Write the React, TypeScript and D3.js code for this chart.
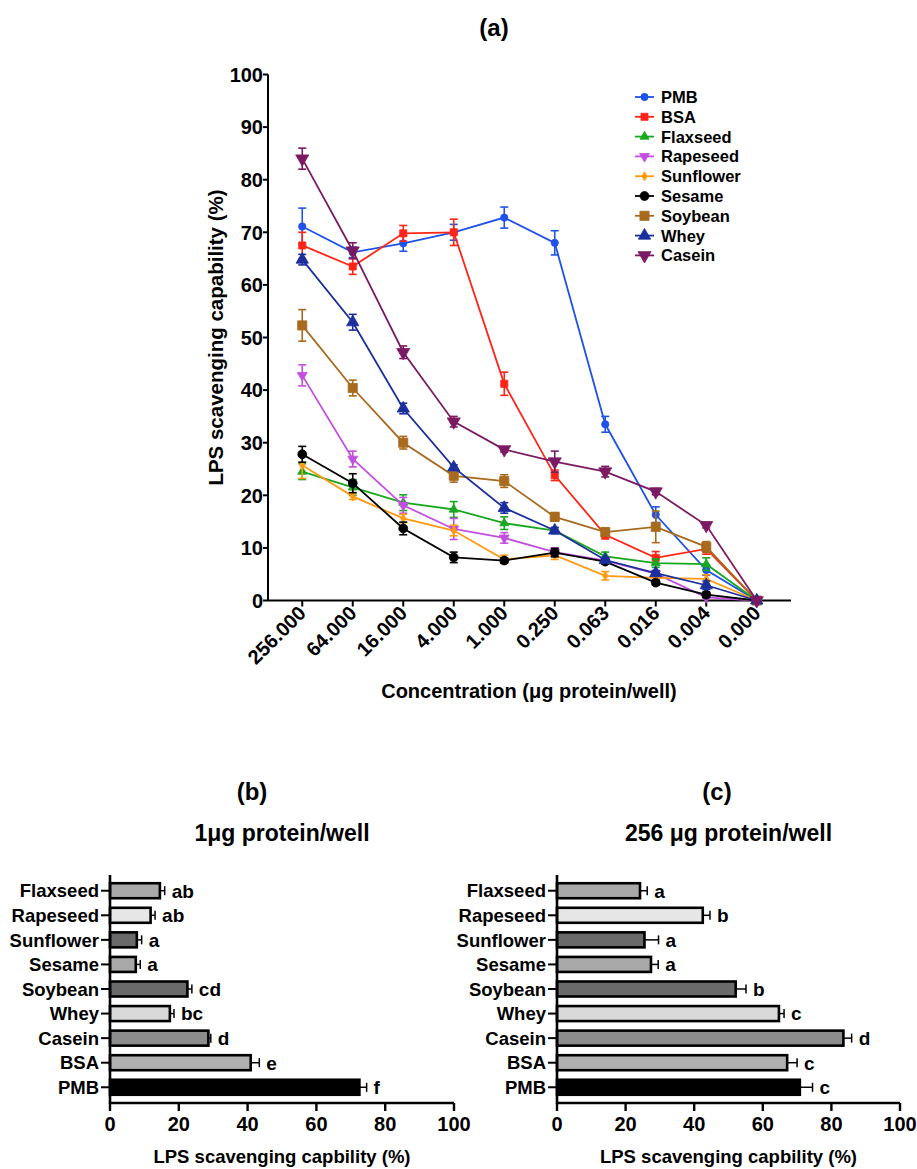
import React from "react";
import * as d3 from "d3";

// ---------- DATA ----------
const concentrations = ["256.000", "64.000", "16.000", "4.000", "1.000", "0.250", "0.063", "0.016", "0.004", "0.000"];
const seriesNames = ["PMB", "BSA", "Flaxseed", "Rapeseed", "Sunflower", "Sesame", "Soybean", "Whey", "Casein"];

const pmbValues = [71.1, 66.2, 67.9, 70.0, 72.8, 68.0, 33.5, 16.3, 5.8, 0];
const pmbErrors = [3.5, 1.0, 1.5, 1.5, 2.0, 2.3, 1.5, 1.5, 1.0, 0];
const bsaValues = [67.5, 63.5, 69.8, 70.0, 41.2, 23.8, 12.5, 8.1, 9.8, 0];
const bsaErrors = [2.5, 1.5, 1.5, 2.5, 2.2, 1.0, 0.8, 1.2, 1.0, 0];
const flaxseedValues = [24.5, 21.5, 18.6, 17.3, 14.7, 13.3, 8.4, 7.1, 6.9, 0];
const flaxseedErrors = [1.5, 1.5, 1.5, 1.5, 1.2, 0.5, 0.8, 0.8, 1.2, 0];
const rapeseedValues = [42.8, 26.9, 18.1, 13.6, 11.9, 9.2, 7.6, 5.1, 0.6, 0];
const rapeseedErrors = [2.0, 1.5, 1.5, 2.0, 1.0, 0.8, 0.5, 0.5, 0.3, 0];
const sunflowerValues = [25.7, 19.8, 15.6, 13.3, 7.8, 8.6, 4.7, 4.3, 4.1, 0];
const sunflowerErrors = [2.5, 0.6, 0.8, 1.0, 0.8, 0.8, 0.8, 0.8, 0.8, 0];
const sesameValues = [27.8, 22.3, 13.7, 8.2, 7.6, 9.1, 7.4, 3.4, 1.1, 0];
const sesameErrors = [1.5, 1.8, 1.2, 1.0, 0.5, 0.8, 0.5, 0.5, 0.5, 0];
const soybeanValues = [52.3, 40.4, 30.0, 23.7, 22.7, 15.9, 13.0, 14.0, 10.2, 0];
const soybeanErrors = [3.0, 1.5, 1.2, 1.2, 1.2, 0.8, 0.8, 3.0, 1.0, 0];
const wheyValues = [64.8, 52.9, 36.5, 25.3, 17.6, 13.3, 7.7, 5.2, 2.9, 0];
const wheyErrors = [1.0, 1.5, 1.0, 0.5, 1.0, 0.6, 0.5, 0.5, 0.8, 0];
const caseinValues = [84.0, 66.5, 47.2, 34.0, 28.7, 26.4, 24.5, 20.7, 14.3, 0];
const caseinErrors = [2.0, 1.5, 1.2, 1.0, 0.5, 2.0, 1.0, 0.6, 0.5, 0];

const yTicks = [0, 10, 20, 30, 40, 50, 60, 70, 80, 90, 100];

const barCategories = ["Flaxseed", "Rapeseed", "Sunflower", "Sesame", "Soybean", "Whey", "Casein", "BSA", "PMB"];
const at1Values = [14.5, 11.8, 7.8, 7.5, 22.5, 17.4, 28.6, 40.9, 72.5];
const at1Errors = [1.4, 1.3, 1.4, 1.3, 1.3, 1.2, 0.7, 2.5, 2.1];
const at1Letters = ["ab", "ab", "a", "a", "cd", "bc", "d", "e", "f"];
const at256Values = [24.2, 42.5, 25.5, 27.4, 52.1, 64.7, 83.5, 67.1, 70.8];
const at256Errors = [2.1, 2.1, 4.1, 2.1, 3.0, 1.5, 2.4, 2.9, 3.7];
const at256Letters = ["a", "b", "a", "a", "b", "c", "d", "c", "c"];
const barTicks = [0, 20, 40, 60, 80, 100];

// ---------- STYLES ----------
const FONT = "'Liberation Sans', Arial, Helvetica, sans-serif";
const seriesStyle: Record<string, { color: string; symbol: any; size: number; rotate: number }> = {
  PMB: { color: "#1f52e8", symbol: d3.symbolCircle, size: 42, rotate: 0 },
  BSA: { color: "#ff2416", symbol: d3.symbolSquare, size: 50, rotate: 0 },
  Flaxseed: { color: "#17a81f", symbol: d3.symbolTriangle, size: 36, rotate: 0 },
  Rapeseed: { color: "#c34fe0", symbol: d3.symbolTriangle, size: 42, rotate: 180 },
  Sunflower: { color: "#ff9a12", symbol: d3.symbolDiamond, size: 24, rotate: 0 },
  Sesame: { color: "#000000", symbol: d3.symbolCircle, size: 62, rotate: 0 },
  Soybean: { color: "#a86b1e", symbol: d3.symbolSquare, size: 84, rotate: 0 },
  Whey: { color: "#1b2f9c", symbol: d3.symbolTriangle, size: 66, rotate: 0 },
  Casein: { color: "#7b1a62", symbol: d3.symbolTriangle, size: 74, rotate: 180 },
};
const barFills = ["#a8a8a8", "#e6e6e6", "#6a6a6a", "#a8a8a8", "#6a6a6a", "#d9d9d9", "#8c8c8c", "#b0b0b0", "#000000"];

const seriesData: Record<string, { v: number[]; e: number[] }> = {
  PMB: { v: pmbValues, e: pmbErrors },
  BSA: { v: bsaValues, e: bsaErrors },
  Flaxseed: { v: flaxseedValues, e: flaxseedErrors },
  Rapeseed: { v: rapeseedValues, e: rapeseedErrors },
  Sunflower: { v: sunflowerValues, e: sunflowerErrors },
  Sesame: { v: sesameValues, e: sesameErrors },
  Soybean: { v: soybeanValues, e: soybeanErrors },
  Whey: { v: wheyValues, e: wheyErrors },
  Casein: { v: caseinValues, e: caseinErrors },
};

function Marker({ name, cx, cy }: { name: string; cx: number; cy: number }) {
  const st = seriesStyle[name];
  const path = d3.symbol().type(st.symbol).size(st.size)() as string;
  return <path d={path} transform={`translate(${cx},${cy}) rotate(${st.rotate})`} fill={st.color} stroke={st.color} strokeWidth={0.8} />;
}

function LineChart() {
  const x = d3.scalePoint<string>().domain(concentrations).range([268, 791]).padding(0.678);
  const y = d3.scaleLinear().domain([0, 100]).range([600.5, 74.5]);
  const line = d3
    .line<number>()
    .x((_, i) => x(concentrations[i]) as number)
    .y((d) => y(d));
  return (
    <g>
      <text x={494} y={36} textAnchor="middle" fontSize={24} fontWeight="bold" fontFamily={FONT}>(a)</text>
      {/* axes */}
      <line x1={268} x2={268} y1={y(100)} y2={y(0)} stroke="#000" strokeWidth={2} />
      <line x1={268} x2={791} y1={y(0)} y2={y(0)} stroke="#000" strokeWidth={2} />
      {yTicks.map((t) => (
        <g key={t}>
          <line x1={263} x2={268} y1={y(t)} y2={y(t)} stroke="#000" strokeWidth={2} />
          <text x={263} y={y(t)} dy="0.36em" textAnchor="end" fontSize={20} fontWeight="bold" fontFamily={FONT}>{t}</text>
        </g>
      ))}
      {concentrations.map((c) => (
        <g key={c}>
          <line x1={x(c)} x2={x(c)} y1={y(0)} y2={y(0) + 6} stroke="#000" strokeWidth={2} />
          <text transform={`translate(${(x(c) as number) + 5},${y(0) + 14}) rotate(-45)`} textAnchor="end" fontSize={20} fontWeight="bold" fontFamily={FONT}>{c}</text>
        </g>
      ))}
      <text transform={`translate(223,${(y(0) + y(100)) / 2}) rotate(-90)`} textAnchor="middle" fontSize={20.5} fontWeight="bold" fontFamily={FONT}>LPS scavenging capability (%)</text>
      <text x={529} y={698} textAnchor="middle" fontSize={20} fontWeight="bold" fontFamily={FONT}>Concentration (μg protein/well)</text>
      {/* series */}
      {seriesNames.map((name) => {
        const st = seriesStyle[name];
        const d = seriesData[name];
        return (
          <g key={name}>
            <path d={line(d.v) as string} fill="none" stroke={st.color} strokeWidth={1.8} />
            {d.v.map((v, i) => {
              const cx = x(concentrations[i]) as number;
              const e = d.e[i];
              if (e <= 0) return null;
              return (
                <g key={i} stroke={st.color} strokeWidth={1.6}>
                  <line x1={cx} x2={cx} y1={y(v - e)} y2={y(v + e)} />
                  <line x1={cx - 4} x2={cx + 4} y1={y(v - e)} y2={y(v - e)} />
                  <line x1={cx - 4} x2={cx + 4} y1={y(v + e)} y2={y(v + e)} />
                </g>
              );
            })}
            {d.v.map((v, i) => (
              <Marker key={i} name={name} cx={x(concentrations[i]) as number} cy={y(v)} />
            ))}
          </g>
        );
      })}
      {/* legend */}
      {seriesNames.map((name, i) => {
        const ly = 97 + i * 19.8;
        const st = seriesStyle[name];
        return (
          <g key={name}>
            <line x1={635} x2={654} y1={ly} y2={ly} stroke={st.color} strokeWidth={1.8} />
            <Marker name={name} cx={644.5} cy={ly} />
            <text x={661} y={ly} dy="0.36em" fontSize={16.5} fontWeight="bold" fontFamily={FONT}>{name}</text>
          </g>
        );
      })}
    </g>
  );
}

function BarPanel({ x0, x1, values, errors, letters, panel, subtitle, panelX }: any) {
  const x = d3.scaleLinear().domain([0, 100]).range([x0, x1]);
  const y = d3.scalePoint<string>().domain(barCategories).range([875, 1103]).padding(0.64);
  const bh = 15;
  const cx = (x0 + x1) / 2;
  return (
    <g>
      <text x={panelX} y={800} textAnchor="middle" fontSize={24} fontWeight="bold" fontFamily={FONT}>{panel}</text>
      <text x={cx} y={841} textAnchor="middle" fontSize={23} fontWeight="bold" fontFamily={FONT}>{subtitle}</text>
      {barCategories.map((c, i) => {
        const yc = y(c) as number;
        const v = values[i];
        const e = errors[i];
        return (
          <g key={c}>
            <line x1={x(v)} x2={x(v + e)} y1={yc} y2={yc} stroke="#000" strokeWidth={1.5} />
            <line x1={x(v + e)} x2={x(v + e)} y1={yc - 4.5} y2={yc + 4.5} stroke="#000" strokeWidth={1.5} />
            <rect x={x(0)} y={yc - bh / 2} width={x(v) - x(0)} height={bh} fill={barFills[i]} stroke="#000" strokeWidth={2.6} />
            <text x={x(v + e) + 7} y={yc} dy="0.36em" fontSize={19} fontWeight="bold" fontFamily={FONT}>{letters[i]}</text>
            <line x1={x0 - 9} x2={x0} y1={yc} y2={yc} stroke="#000" strokeWidth={2} />
            <text x={x0 - 11} y={yc} dy="0.36em" textAnchor="end" fontSize={18.5} fontWeight="bold" fontFamily={FONT}>{c}</text>
          </g>
        );
      })}
      <line x1={x0} x2={x0} y1={875} y2={1104} stroke="#000" strokeWidth={2.6} />
      <line x1={x0} x2={x1} y1={1103} y2={1103} stroke="#000" strokeWidth={2.6} />
      {barTicks.map((t) => (
        <g key={t}>
          <line x1={x(t)} x2={x(t)} y1={1103} y2={1111} stroke="#000" strokeWidth={2.4} />
          <text x={x(t)} y={1131} textAnchor="middle" fontSize={20} fontWeight="bold" fontFamily={FONT}>{t}</text>
        </g>
      ))}
      <text x={cx} y={1163} textAnchor="middle" fontSize={18.5} fontWeight="bold" fontFamily={FONT}>LPS scavenging capbility (%)</text>
    </g>
  );
}

export default function App() {
  return (
    <svg width={917} height={1169} style={{ position: "absolute", left: 0, top: 0, background: "#fff" }}>
      <rect width={917} height={1169} fill="#fff" />
      <LineChart />
      <BarPanel x0={110} x1={454} values={at1Values} errors={at1Errors} letters={at1Letters} panel="(b)" panelX={252} subtitle="1μg protein/well" />
      <BarPanel x0={557} x1={900} values={at256Values} errors={at256Errors} letters={at256Letters} panel="(c)" panelX={717} subtitle="256 μg protein/well" />
    </svg>
  );
}
